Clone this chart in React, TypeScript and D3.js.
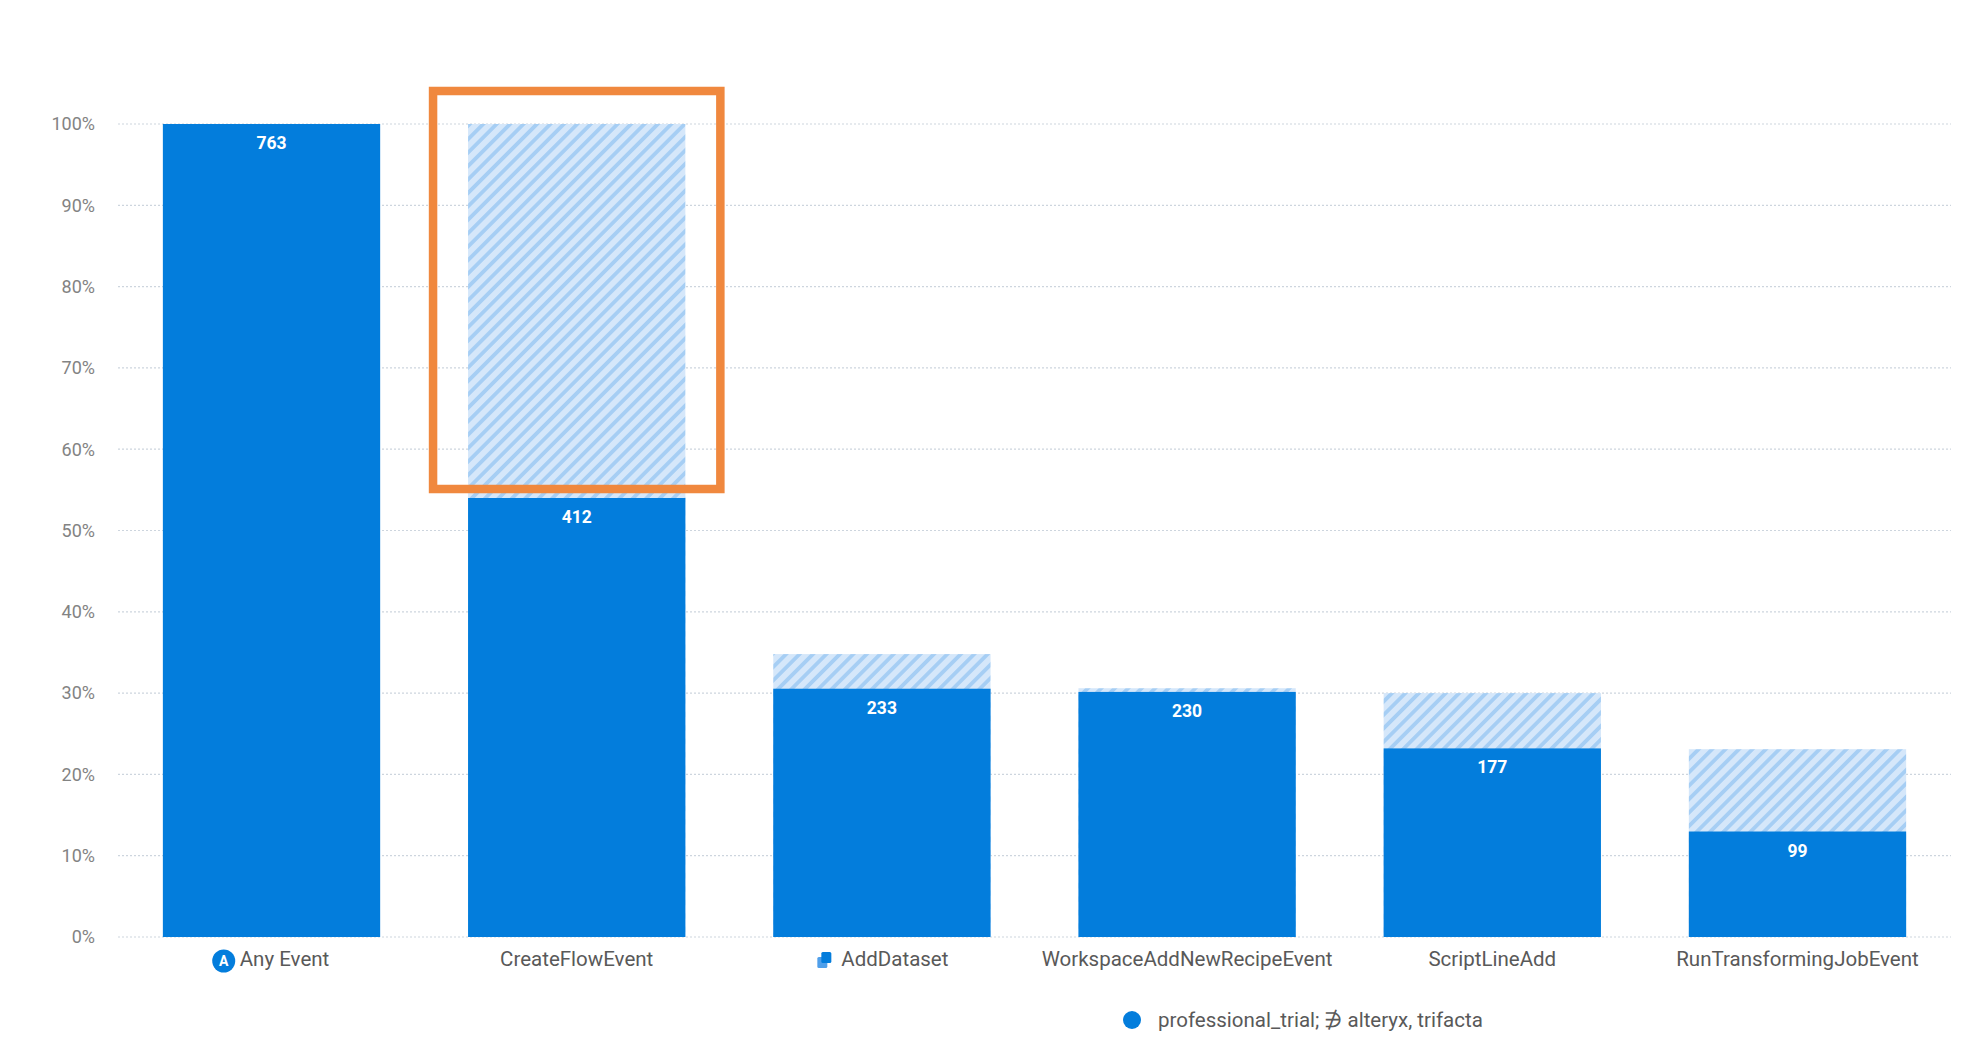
import { useEffect, useRef } from 'react';
import * as d3 from 'd3';

const size = { width: 1982, height: 1046 };
const MARGIN = { top: 124, right: 31, bottom: 106, left: 118 };

const color = {
  bar: '#037ddc',
  hatchBg: '#d5e7fa',
  hatchLine: '#a6cef4',
  grid: '#cdd5de',
  tick: '#838383',
  label: '#595959',
  highlight: '#f0883e',
};

// funnel steps
const steps = [
  'Any Event',
  'CreateFlowEvent',
  'AddDataset',
  'WorkspaceAddNewRecipeEvent',
  'ScriptLineAdd',
  'RunTransformingJobEvent',
];
const converted = [763, 412, 233, 230, 177, 99];
// top of the hatched (ghost) part, in % of the first step
const ghostPct = [0, 100, 34.8, 30.6, 30.0, 23.1];
const yTicks = [0, 10, 20, 30, 40, 50, 60, 70, 80, 90, 100];
const legendLabel = 'professional_trial; \u220C alteryx, trifacta';
const highlightStep = 'CreateFlowEvent';

const FONT = 'Roboto, "Open Sans", sans-serif';

const App = () => {
  const ref = useRef<SVGSVGElement>(null);

  useEffect(() => {
    const svg = d3.select(ref.current);
    svg.selectAll('*').remove();

    const boundsBottom = size.height - MARGIN.bottom;
    const yScale = d3.scaleLinear().domain([0, 100]).range([boundsBottom - 3, MARGIN.top]);
    const xScale = d3
      .scaleBand<string>()
      .domain(steps)
      .range([MARGIN.left, size.width - MARGIN.right])
      .paddingInner(0.288)
      .paddingOuter(0.147);
    const total = converted[0];
    const pct = (v: number) => (v / total) * 100;

    // hatch pattern
    const defs = svg.append('defs');
    const pattern = defs
      .append('pattern')
      .attr('id', 'hatch')
      .attr('patternUnits', 'userSpaceOnUse')
      .attr('width', 9.5)
      .attr('height', 9.5)
      .attr('patternTransform', 'rotate(45)');
    pattern.append('rect').attr('width', 9.5).attr('height', 9.5).attr('fill', color.hatchBg);
    pattern.append('rect').attr('width', 3.8).attr('height', 9.5).attr('fill', color.hatchLine);

    // grid + y labels
    const grid = svg.append('g');
    yTicks.forEach(t => {
      grid
        .append('line')
        .attr('x1', MARGIN.left)
        .attr('x2', size.width - MARGIN.right)
        .attr('y1', yScale(t))
        .attr('y2', yScale(t))
        .attr('stroke', color.grid)
        .attr('stroke-width', 1.2)
        .attr('stroke-dasharray', '2,2');
      grid
        .append('text')
        .attr('x', 95)
        .attr('y', yScale(t))
        .attr('dy', '0.35em')
        .attr('text-anchor', 'end')
        .attr('font-family', FONT)
        .attr('font-size', 18)
        .attr('fill', color.tick)
        .text(`${t}%`);
    });

    // ghost bars
    svg
      .append('g')
      .selectAll('rect')
      .data(steps.map((s, i) => ({ s, g: ghostPct[i] })).filter(d => d.g > 0))
      .join('rect')
      .attr('x', d => xScale(d.s) as number)
      .attr('width', xScale.bandwidth())
      .attr('y', d => yScale(d.g))
      .attr('height', d => yScale(0) - yScale(d.g))
      .attr('fill', 'url(#hatch)');

    // converted bars
    const bars = svg.append('g');
    steps.forEach((s, i) => {
      const x = xScale(s) as number;
      const top = yScale(pct(converted[i]));
      bars
        .append('rect')
        .attr('x', x)
        .attr('width', xScale.bandwidth())
        .attr('y', top)
        .attr('height', yScale(0) - top)
        .attr('fill', color.bar);
      bars
        .append('text')
        .attr('x', x + xScale.bandwidth() / 2)
        .attr('y', top + 25)
        .attr('text-anchor', 'middle')
        .attr('font-family', FONT)
        .attr('font-weight', 700)
        .attr('font-size', 17.5)
        .attr('fill', '#fff')
        .text(converted[i]);
    });

    // x labels
    const labelY = 960;
    steps.forEach(s => {
      const cx = (xScale(s) as number) + xScale.bandwidth() / 2;
      const hasIcon = s === 'Any Event' || s === 'AddDataset';
      const g = svg.append('g');
      const text = g
        .append('text')
        .attr('y', labelY)
        .attr('dy', '0.3em')
        .attr('font-family', FONT)
        .attr('font-size', 20.5)
        .attr('fill', color.label)
        .text(s);
      const w = (text.node() as SVGTextElement).getComputedTextLength();
      const iconW = hasIcon ? 26 : 0;
      const start = cx - (w + iconW) / 2;
      text.attr('x', start + iconW);
      if (s === 'Any Event') {
        g.append('circle').attr('cx', start + 10).attr('cy', labelY + 1).attr('r', 11.5).attr('fill', color.bar);
        g.append('text')
          .attr('x', start + 10)
          .attr('y', labelY + 1)
          .attr('dy', '0.36em')
          .attr('text-anchor', 'middle')
          .attr('font-family', FONT)
          .attr('font-weight', 700)
          .attr('font-size', 14)
          .attr('fill', '#fff')
          .text('A');
      } else if (s === 'AddDataset') {
        g.append('rect').attr('x', start + 2).attr('y', labelY - 3).attr('width', 10).attr('height', 11).attr('rx', 1.5).attr('fill', '#4f9fea');
        g.append('rect').attr('x', start + 6).attr('y', labelY - 8).attr('width', 10).attr('height', 11).attr('rx', 1.5).attr('fill', color.bar);
      }
    });

    // highlight box
    const hx = xScale(highlightStep) as number;
    const hi = steps.indexOf(highlightStep);
    const hTop = yScale(100) - 33;
    const hBottom = yScale(pct(converted[hi])) - 9;
    svg
      .append('rect')
      .attr('x', hx - 35)
      .attr('y', hTop)
      .attr('width', xScale.bandwidth() + 70)
      .attr('height', hBottom - hTop)
      .attr('fill', 'none')
      .attr('stroke', color.highlight)
      .attr('stroke-width', 8.5);

    // legend
    svg.append('circle').attr('cx', 1132).attr('cy', 1020).attr('r', 9).attr('fill', color.bar);
    svg
      .append('text')
      .attr('x', 1158)
      .attr('y', 1020)
      .attr('dy', '0.35em')
      .attr('font-family', FONT)
      .attr('font-size', 20.5)
      .attr('fill', color.label)
      .text(legendLabel);
  }, []);

  return (
    <svg
      ref={ref}
      width={size.width}
      height={size.height}
      style={{ position: 'absolute', left: 0, top: 0, background: '#fff' }}
    />
  );
};

export default App;
